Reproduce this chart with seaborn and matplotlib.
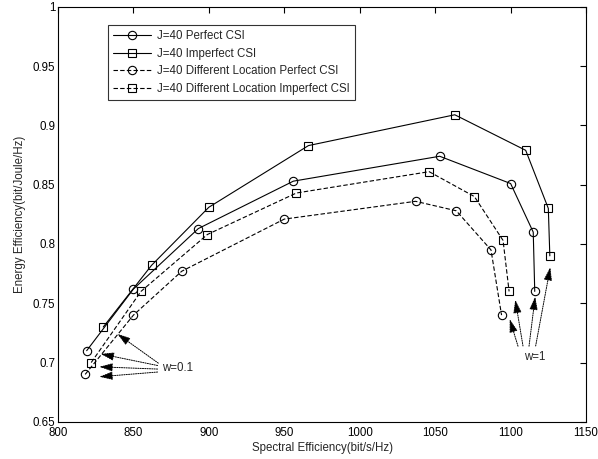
import pandas as pd
import matplotlib
matplotlib.use("Agg")
import matplotlib.pyplot as plt
import seaborn as sns
from matplotlib.ticker import FormatStrFormatter, MultipleLocator

# data
perfect_x = [819, 850, 893, 956, 1053, 1100, 1115, 1116]
perfect_y = [0.710, 0.762, 0.813, 0.853, 0.874, 0.851, 0.810, 0.760]
imperfect_x = [830, 862, 900, 966, 1063, 1110, 1125, 1126]
imperfect_y = [0.730, 0.782, 0.831, 0.883, 0.909, 0.879, 0.830, 0.790]
diff_perfect_x = [818, 850, 882, 950, 1037, 1064, 1087, 1094]
diff_perfect_y = [0.690, 0.740, 0.777, 0.821, 0.836, 0.828, 0.795, 0.740]
diff_imperfect_x = [822, 855, 899, 958, 1046, 1076, 1095, 1099]
diff_imperfect_y = [0.700, 0.760, 0.808, 0.843, 0.861, 0.840, 0.803, 0.760]

labels = ["J=40 Perfect CSI", "J=40 Imperfect CSI",
          "J=40 Different Location Perfect CSI",
          "J=40 Different Location Imperfect CSI"]

# annotation arrows: heads near the w=0.1 / w=1 ends of the curves
w01_heads = [(839.3, 0.7242), (828.3, 0.7073), (827.4, 0.6964), (827.4, 0.6880)]
w01_tails = [(866.5, 0.6995), (866.0, 0.6975), (866.0, 0.6945), (866.0, 0.6920)]
w1_heads = [(1099.4, 0.7366), (1103.1, 0.7529), (1116.3, 0.7556), (1126.3, 0.7804)]
w1_tails = [(1104.9, 0.7138), (1108.2, 0.7140), (1112.2, 0.7138), (1116.6, 0.7140)]

sns.set_style("white")
plt.rcParams['font.family'] = ['Liberation Sans', 'DejaVu Sans']
FS = 8.3

fig = plt.figure(figsize=(5.98, 4.59), dpi=100)
ax = fig.add_axes([0.097, 0.081, 0.883, 0.904])

series = [
    (perfect_x, perfect_y, "o", "-"),
    (imperfect_x, imperfect_y, "s", "-"),
    (diff_perfect_x, diff_perfect_y, "o", "--"),
    (diff_imperfect_x, diff_imperfect_y, "s", "--"),
]
for (xs, ys, mk, ls), lab in zip(series, labels):
    df = pd.DataFrame({"x": xs, "y": ys})
    sns.lineplot(data=df, x="x", y="y", sort=False, estimator=None, ax=ax,
                 color="black", linewidth=0.8, linestyle=ls, marker=mk,
                 markersize=6, markerfacecolor="none", markeredgecolor="black",
                 markeredgewidth=0.8, label=lab, dashes=False)
for line in ax.get_lines()[2:4]:
    line.set_dashes((4, 2))

arrow_kw = dict(arrowstyle="-|>,head_length=0.8,head_width=0.25",
                linestyle=(0, (1.2, 1.2)), lw=0.7, color="black",
                mutation_scale=10, shrinkA=0, shrinkB=0)
for (hx, hy), (tx, ty) in zip(w01_heads + w1_heads, w01_tails + w1_tails):
    ax.annotate("", xy=(hx, hy), xytext=(tx, ty), arrowprops=arrow_kw)
ax.text(869, 0.6953, "w=0.1", fontsize=FS, va="center", ha="left")
ax.text(1116.3, 0.705, "w=1", fontsize=FS, va="center", ha="center")

ax.set_xlim(800, 1150)
ax.set_ylim(0.65, 1.0)
ax.xaxis.set_major_locator(MultipleLocator(50))
ax.yaxis.set_major_locator(MultipleLocator(0.05))
ax.yaxis.set_major_formatter(FormatStrFormatter('%g'))
ax.tick_params(direction="in", length=4, width=0.8, labelsize=FS,
               top=True, right=True, colors="black")
ax.tick_params(axis="x", pad=4)
ax.tick_params(axis="y", pad=2)
for s in ax.spines.values():
    s.set_color("black")
    s.set_linewidth(0.8)
ax.set_xlabel("Spectral Efficiency(bit/s/Hz)", fontsize=FS, labelpad=2)
ax.set_ylabel("Energy Efficiency(bit/Joule/Hz)", fontsize=FS, labelpad=5)

leg = ax.legend(loc="upper left", bbox_to_anchor=(0.095, 0.957), fontsize=FS,
                frameon=True, fancybox=False, borderpad=0.45, labelspacing=0.5,
                handlelength=3.3, handletextpad=0.5, borderaxespad=0)
leg.get_frame().set_edgecolor("black")
leg.get_frame().set_linewidth(0.8)

fig.savefig("out.png", dpi=100)
